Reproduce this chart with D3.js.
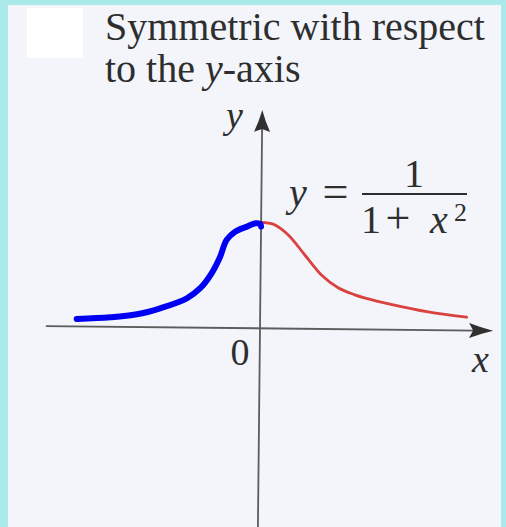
<!DOCTYPE html>
<html>
<head>
<meta charset="utf-8">
<script src="https://cdn.jsdelivr.net/npm/d3@7"></script>
<style>
  html, body { margin: 0; padding: 0; background: #f3f5fb; }
  svg { display: block; }
</style>
</head>
<body>
<script>
// y = 1/(1+x^2): right half as printed (red), left half as traced by hand (blue)
const redX  = [0, 0.1, 0.2, 0.39, 0.63, 0.87, 1.11, 1.35, 1.5, 1.9, 2.38, 2.95];
const redY  = [1.0, 0.994, 0.976, 0.883, 0.696, 0.509, 0.39, 0.325, 0.295, 0.235, 0.174, 0.125];
const blueX = [-2.62, -2.14, -1.76, -1.43, -1.05, -0.86, -0.70, -0.58, -0.49, -0.37, -0.20, -0.08, -0.01, 0.0];
const blueY = [0.070, 0.089, 0.120, 0.179, 0.276, 0.372, 0.514, 0.672, 0.830, 0.909, 0.958, 0.990, 0.984, 0.960];

// axis extents (data units)
const xAxisExtent = [-3.06, 3.33];
const yAxisExtent = [-1.95, 2.06];

// text
const titleLines = ["Symmetric with respect", "to the "];
const axisLabels = { x: "x", y: "y", origin: "0" };

const W = 506, H = 527;
const serif = "'Liberation Serif', 'Times New Roman', serif";
const ink = "#2e2e2e";

const svg = d3.select("body").append("svg")
  .attr("width", W).attr("height", H);

// page
svg.append("rect").attr("width", W).attr("height", H).attr("fill", "#f3f5fb");

// cyan frame and white patch
svg.append("rect").attr("x", 0).attr("y", 0).attr("width", 8).attr("height", H).attr("fill", "#abeaea");
svg.append("rect").attr("x", 0).attr("y", 0).attr("width", W).attr("height", 5).attr("fill", "#abeaea");
svg.append("rect").attr("x", 501).attr("y", 0).attr("width", 5).attr("height", H).attr("fill", "#abeaea");
svg.append("rect").attr("x", 27).attr("y", 8).attr("width", 56).attr("height", 50).attr("fill", "#ffffff");

// title
const title = svg.append("g").attr("font-family", serif).attr("font-size", 40).attr("fill", ink);
title.append("text").attr("x", 105).attr("y", 40).text(titleLines[0]);
const t2 = title.append("text").attr("x", 105).attr("y", 82);
t2.append("tspan").text(titleLines[1]);
t2.append("tspan").attr("font-style", "italic").text("y");
t2.append("tspan").text("-axis");

// scales
const x = d3.scaleLinear().domain([0, 1]).range([260, 330]);
const y = d3.scaleLinear().domain([0, 1]).range([328.3, 222.3]);

// plot group (slightly rotated, as printed)
const g = svg.append("g").attr("transform", `rotate(0.6, ${x(0)}, ${y(0)})`);

const axisColor = "#5c5c5c";
const headColor = "#303030";

// x axis
const xTip = [x(xAxisExtent[1]), y(0)];
g.append("line")
  .attr("x1", x(xAxisExtent[0])).attr("y1", y(0))
  .attr("x2", xTip[0] - 18).attr("y2", y(0))
  .attr("stroke", axisColor).attr("stroke-width", 1.8);
g.append("path")
  .attr("d", `M${xTip[0]},${xTip[1]} Q${xTip[0]-12},${xTip[1]-3} ${xTip[0]-24},${xTip[1]-7.5} L${xTip[0]-20},${xTip[1]} L${xTip[0]-24},${xTip[1]+7.5} Q${xTip[0]-12},${xTip[1]+3} ${xTip[0]},${xTip[1]} Z`)
  .attr("fill", headColor);

// y axis
const yTip = [x(0), y(yAxisExtent[1])];
g.append("line")
  .attr("x1", x(0)).attr("y1", y(yAxisExtent[0]))
  .attr("x2", x(0)).attr("y2", yTip[1] + 17)
  .attr("stroke", axisColor).attr("stroke-width", 1.8);
g.append("path")
  .attr("d", `M${yTip[0]},${yTip[1]} Q${yTip[0]-3},${yTip[1]+11} ${yTip[0]-8},${yTip[1]+22} L${yTip[0]},${yTip[1]+19} L${yTip[0]+8},${yTip[1]+22} Q${yTip[0]+3},${yTip[1]+11} ${yTip[0]},${yTip[1]} Z`)
  .attr("fill", headColor);

// curves
const line = d3.line().x(d => x(d[0])).y(d => y(d[1])).curve(d3.curveCatmullRom.alpha(0.5));

g.append("path")
  .datum(redX.map((v, i) => [v, redY[i]]))
  .attr("d", line)
  .attr("fill", "none").attr("stroke", "#d9423f").attr("stroke-width", 2.8)
  .attr("stroke-linecap", "round");

g.append("path")
  .datum(blueX.map((v, i) => [v, blueY[i]]))
  .attr("d", line)
  .attr("fill", "none").attr("stroke", "#0000f2").attr("stroke-width", 6)
  .attr("stroke-linecap", "round").attr("stroke-linejoin", "round");

// axis labels
const labels = svg.append("g").attr("font-family", serif).attr("fill", ink).attr("font-size", 38);
labels.append("text").attr("x", 226).attr("y", 128).attr("font-style", "italic").text(axisLabels.y);
labels.append("text").attr("x", 240).attr("y", 365).attr("text-anchor", "middle").text(axisLabels.origin);
labels.append("text").attr("x", 472).attr("y", 372).attr("font-style", "italic").text(axisLabels.x);

// equation label: y = 1 / (1 + x^2)
const eq = svg.append("g").attr("font-family", serif).attr("fill", ink).attr("font-size", 40);
eq.append("text").attr("x", 289).attr("y", 206).attr("font-style", "italic").text("y");
eq.append("text").attr("x", 335.5).attr("y", 207).attr("text-anchor", "middle").attr("font-size", 46).text("=");
eq.append("text").attr("x", 414).attr("y", 187).attr("text-anchor", "middle").text("1");
eq.append("line").attr("x1", 362).attr("x2", 467).attr("y1", 194).attr("y2", 194)
  .attr("stroke", ink).attr("stroke-width", 2);
eq.append("text").attr("x", 361).attr("y", 233).text("1");
eq.append("text").attr("x", 398).attr("y", 233).attr("text-anchor", "middle").attr("font-size", 44).text("+");
eq.append("text").attr("x", 430).attr("y", 233).attr("font-style", "italic").text("x");
eq.append("text").attr("x", 454).attr("y", 221).attr("font-size", 26).text("2");
</script>
</body>
</html>
